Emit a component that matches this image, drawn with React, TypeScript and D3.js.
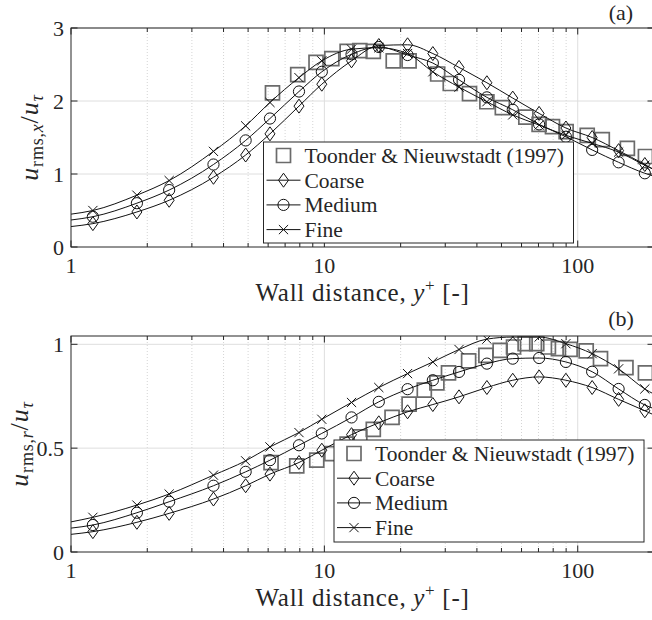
import React from 'react';
import * as d3 from 'd3';

// wall distance y+ of the simulation points (first/last: line ends only)
const yPlus = [1, 1.22, 1.82, 2.44, 3.65, 4.89, 6.1, 7.94, 9.77, 12.8, 16.4, 21.3, 26.8, 34, 43.8, 55.4, 70.4, 89.8, 114, 145, 184, 200];

// panel (a): u_rms,x / u_tau
const uxCoarse = [0.28, 0.32, 0.48, 0.64, 0.955, 1.26, 1.55, 1.93, 2.23, 2.55, 2.76, 2.77, 2.65, 2.46, 2.25, 2.04, 1.83, 1.63, 1.5, 1.32, 1.13, 1.06];
const uxMedium = [0.37, 0.415, 0.6, 0.78, 1.13, 1.46, 1.76, 2.13, 2.4, 2.64, 2.74, 2.63, 2.52, 2.29, 2.05, 1.88, 1.68, 1.51, 1.33, 1.16, 1.01, 0.97];
const uxFine = [0.45, 0.5, 0.71, 0.91, 1.31, 1.66, 1.98, 2.32, 2.55, 2.71, 2.73, 2.65, 2.4, 2.19, 1.99, 1.81, 1.67, 1.53, 1.42, 1.3, 1.12, 1.06];

// panel (b): u_rms,r / u_tau
const urCoarse = [0.085, 0.098, 0.143, 0.186, 0.255, 0.319, 0.375, 0.431, 0.49, 0.565, 0.622, 0.675, 0.71, 0.747, 0.792, 0.827, 0.843, 0.827, 0.792, 0.735, 0.68, 0.66];
const urMedium = [0.115, 0.13, 0.189, 0.242, 0.319, 0.386, 0.442, 0.514, 0.571, 0.648, 0.723, 0.784, 0.827, 0.867, 0.907, 0.931, 0.934, 0.915, 0.868, 0.785, 0.708, 0.69];
const urFine = [0.145, 0.167, 0.226, 0.279, 0.37, 0.439, 0.506, 0.575, 0.639, 0.72, 0.792, 0.859, 0.915, 0.975, 1.025, 1.035, 1.035, 1.003, 0.955, 0.882, 0.785, 0.76];

// Toonder & Nieuwstadt (1997) experimental data
const toonderYPlusA = [6.24, 7.85, 9.27, 10.7, 12.3, 13.8, 15.6, 18.7, 21.6, 28, 31.4, 37.4, 43.8, 50.4, 62.4, 70.4, 79.5, 90, 109, 125, 157, 185];
const toonderUx = [2.11, 2.36, 2.53, 2.58, 2.68, 2.69, 2.68, 2.55, 2.55, 2.37, 2.24, 2.1, 1.99, 1.91, 1.78, 1.68, 1.65, 1.58, 1.53, 1.47, 1.35, 1.24];
const toonderYPlusB = [6.16, 7.78, 9.33, 10.7, 12.3, 13.8, 15.6, 18.5, 21.6, 24.8, 27.8, 30.9, 37.1, 43.4, 49.4, 55.8, 62, 68.9, 76.6, 83.9, 93.3, 108, 123, 155, 185];
const toonderUr = [0.43, 0.415, 0.442, 0.474, 0.519, 0.554, 0.59, 0.648, 0.712, 0.779, 0.814, 0.862, 0.92, 0.947, 0.971, 0.987, 1.003, 1.003, 0.987, 0.979, 0.976, 0.968, 0.931, 0.888, 0.862];

const legendLabels = ['Toonder & Nieuwstadt (1997)', 'Coarse', 'Medium', 'Fine'];
const seriesMarkers = ['diamond', 'circle', 'x'];
const xTicks = [1, 10, 100];
const yTicksA = [0, 1, 2, 3];
const yTicksB = [0, 0.5, 1];

const W = 652;
const H = 620;
const FONT = "'Liberation Serif', 'DejaVu Serif', serif";
const TXT = '#262626';
const x = d3.scaleLog().domain([1, 200]).range([71, 654]);
const minorX = [2, 3, 4, 5, 6, 7, 8, 9, 20, 30, 40, 50, 60, 70, 80, 90];

function markerPath(kind: string): string {
  switch (kind) {
    case 'square':
      return 'M-7,-7H7V7H-7Z';
    case 'diamond':
      return 'M0,-7L5,0L0,7L-5,0Z';
    case 'circle':
      return 'M-5.6,0A5.6,5.6 0 1,0 5.6,0A5.6,5.6 0 1,0 -5.6,0Z';
    default:
      return 'M-4.6,-4.6L4.6,4.6M-4.6,4.6L4.6,-4.6';
  }
}

function Marker({ kind, cx, cy }: { kind: string; cx: number; cy: number }) {
  const sq = kind === 'square';
  return (
    <path
      d={markerPath(kind)}
      transform={`translate(${cx},${cy})`}
      fill="none"
      stroke={sq ? '#6b6b6b' : '#111'}
      strokeWidth={sq ? 1.7 : 1}
    />
  );
}

type PanelProps = {
  id: string;
  top: number;
  bottom: number;
  yMax: number;
  yTicks: number[];
  series: number[][];
  toonderX: number[];
  toonderY: number[];
  legend: { x: number; y: number; w: number; h: number };
  letter: string;
  letterY: number;
  comp: string;
  ylabelX: number;
};

function Panel(p: PanelProps) {
  const y = d3.scaleLinear().domain([0, p.yMax]).range([p.bottom, p.top]);
  const left = x.range()[0];
  const right = x.range()[1];
  const line = d3
    .line<number>()
    .x((_, i) => x(yPlus[i]))
    .y((v) => y(v))
    .curve(d3.curveMonotoneX);
  const fmt = (v: number) => (v === 0.5 ? '0.5' : String(v));
  const fs = { fontFamily: FONT };
  return (
    <g>
      <defs>
        <clipPath id={p.id}>
          <rect x={left} y={p.top} width={right - left} height={p.bottom - p.top} />
        </clipPath>
      </defs>
      {/* grid */}
      {minorX.map((t) => (
        <line key={'mg' + t} x1={x(t)} x2={x(t)} y1={p.top} y2={p.bottom} stroke="#c9c9c9" strokeWidth={0.8} strokeDasharray="1,2" />
      ))}
      {xTicks.slice(1).map((t) => (
        <line key={'gx' + t} x1={x(t)} x2={x(t)} y1={p.top} y2={p.bottom} stroke="#dedede" strokeWidth={1} />
      ))}
      {p.yTicks.slice(1).map((t) => (
        <line key={'gy' + t} x1={left} x2={right} y1={y(t)} y2={y(t)} stroke="#dedede" strokeWidth={1} />
      ))}
      {/* data */}
      <g clipPath={`url(#${p.id})`}>
        {p.toonderX.map((xv, i) => (
          <Marker key={'t' + i} kind="square" cx={x(xv)} cy={y(p.toonderY[i])} />
        ))}
        {p.series.map((s, si) => (
          <g key={'s' + si}>
            <path d={line(s) || ''} fill="none" stroke="#111" strokeWidth={1} />
            {s.map((v, i) =>
              i === 0 || i === s.length - 1 ? null : (
                <Marker key={i} kind={seriesMarkers[si]} cx={x(yPlus[i])} cy={y(v)} />
              )
            )}
          </g>
        ))}
      </g>
      {/* axes box */}
      <rect x={left} y={p.top} width={right - left} height={p.bottom - p.top} fill="none" stroke={TXT} strokeWidth={1} />
      {xTicks.map((t) => (
        <g key={'xt' + t}>
          <line x1={x(t)} x2={x(t)} y1={p.bottom} y2={p.bottom - 6.5} stroke={TXT} />
          <line x1={x(t)} x2={x(t)} y1={p.top} y2={p.top + 6.5} stroke={TXT} />
          <text x={x(t)} y={p.bottom + 26} textAnchor="middle" fontSize={22} fill={TXT} style={fs}>
            {t}
          </text>
        </g>
      ))}
      {minorX.map((t) => (
        <g key={'xm' + t}>
          <line x1={x(t)} x2={x(t)} y1={p.bottom} y2={p.bottom - 4} stroke={TXT} />
          <line x1={x(t)} x2={x(t)} y1={p.top} y2={p.top + 4} stroke={TXT} />
        </g>
      ))}
      {p.yTicks.map((t) => (
        <g key={'yt' + t}>
          <line x1={left} x2={left + 6.5} y1={y(t)} y2={y(t)} stroke={TXT} />
          <line x1={right} x2={right - 6.5} y1={y(t)} y2={y(t)} stroke={TXT} />
          <text x={64} y={y(t) + 7.5} textAnchor="end" fontSize={22} fill={TXT} style={fs}>
            {fmt(t)}
          </text>
        </g>
      ))}
      {/* x label */}
      <text x={(left + right) / 2} y={p.bottom + 54} textAnchor="middle" fontSize={25} fill={TXT} style={fs} letterSpacing={0.7}>
        <tspan>Wall distance, </tspan>
        <tspan fontStyle="italic">y</tspan>
        <tspan fontSize={17} dy={-10}>+</tspan>
        <tspan dy={10}> [-]</tspan>
      </text>
      {/* y label */}
      <text
        transform={`translate(${p.ylabelX},${(p.top + p.bottom) / 2}) rotate(-90)`}
        textAnchor="middle"
        fontSize={26}
        fill={TXT}
        style={fs}
        letterSpacing={0.8}
      >
        <tspan fontStyle="italic">u</tspan>
        <tspan fontSize={18} dy={5}>rms,</tspan>
        <tspan fontSize={18} fontStyle="italic">{p.comp}</tspan>
        <tspan dy={-5}>/</tspan>
        <tspan fontStyle="italic">u</tspan>
        <tspan fontSize={18} dy={5} fontStyle="italic">τ</tspan>
      </text>
      {/* panel letter */}
      <text x={621} y={p.letterY} textAnchor="middle" fontSize={22} fill={TXT} style={fs}>
        {p.letter}
      </text>
      {/* legend */}
      <g>
        <rect x={p.legend.x} y={p.legend.y} width={p.legend.w} height={p.legend.h} fill="#fff" stroke={TXT} strokeWidth={1} />
        {legendLabels.map((lab, i) => {
          const cy = p.legend.y + 13.5 + i * 24.7;
          const kind = i === 0 ? 'square' : seriesMarkers[i - 1];
          return (
            <g key={'lg' + i}>
              {i > 0 && (
                <line x1={p.legend.x + 3} x2={p.legend.x + 37} y1={cy} y2={cy} stroke="#111" strokeWidth={1} />
              )}
              <Marker kind={kind} cx={p.legend.x + 20} cy={cy} />
              <text x={p.legend.x + 41} y={cy + 7.5} fontSize={21.5} fill={TXT} style={fs}>
                {lab}
              </text>
            </g>
          );
        })}
      </g>
    </g>
  );
}

export default function App() {
  return (
    <svg width={W} height={H} viewBox={`0 0 ${W} ${H}`} style={{ position: 'absolute', left: 0, top: 0, background: '#fff' }}>
      <rect x={0} y={0} width={W} height={H} fill="#fff" />
      <Panel
        id="clipA"
        top={28}
        bottom={247}
        yMax={3}
        yTicks={yTicksA}
        series={[uxCoarse, uxMedium, uxFine]}
        toonderX={toonderYPlusA}
        toonderY={toonderUx}
        legend={{ x: 263.5, y: 142, w: 310, h: 101 }}
        letter="(a)"
        letterY={20}
        comp="x"
        ylabelX={38}
      />
      <Panel
        id="clipB"
        top={336}
        bottom={552}
        yMax={1.04}
        yTicks={yTicksB}
        series={[urCoarse, urMedium, urFine]}
        toonderX={toonderYPlusB}
        toonderY={toonderUr}
        legend={{ x: 334, y: 440, w: 310, h: 102 }}
        letter="(b)"
        letterY={326}
        comp="r"
        ylabelX={28}
      />
    </svg>
  );
}
